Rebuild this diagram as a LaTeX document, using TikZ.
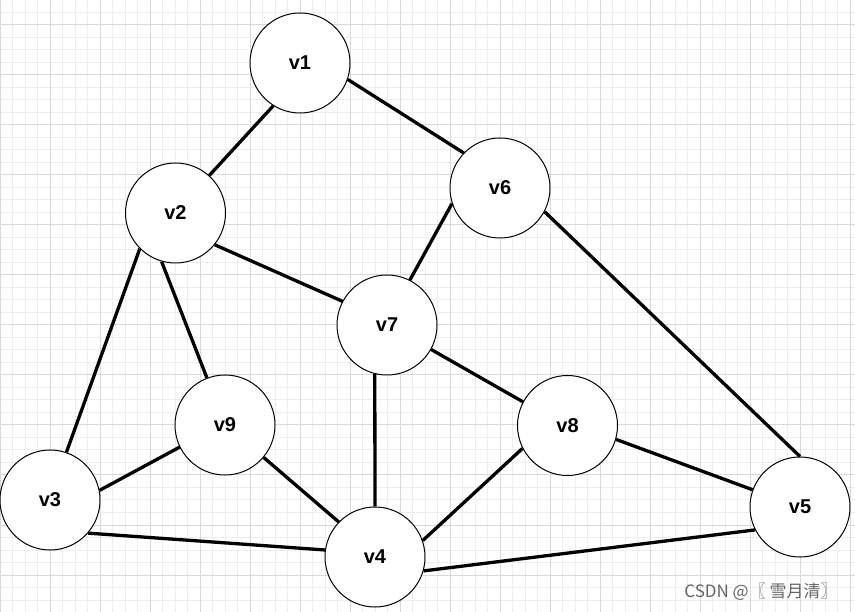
\documentclass[tikz,border=0pt]{standalone}
\usepackage{fontspec}
\setmainfont{Liberation Sans}
\newfontfamily\cjk{Noto Sans CJK SC}
\begin{document}
\begin{tikzpicture}[x=1pt,y=-1pt,
  vert/.style={circle,draw=black,line width=1pt,fill=white,minimum size=100pt,inner sep=0pt,font=\fontsize{20}{23}\selectfont\bfseries},
  link/.style={line width=3.3pt,black},
  minorgrid/.style={draw=black!7,line width=1pt},
  majorgrid/.style={draw=black!15,line width=1pt}]
\useasboundingbox (0,0) rectangle (855,612);
\fill[white] (0,0) rectangle (855,612);
% grid
\foreach \i in {0,...,69} {\draw[minorgrid] (\i*12.5,0) -- (\i*12.5,612);}
\foreach \j in {0,...,49} {\draw[minorgrid] (0,\j*12.5) -- (855,\j*12.5);}
\foreach \i in {0,...,17} {\draw[majorgrid] (\i*50,0) -- (\i*50,612);}
\foreach \j in {0,...,12} {\draw[majorgrid] (0,25+\j*50) -- (855,25+\j*50);}
% nodes
\node[vert] (v1) at (300,63) {v1};
\node[vert] (v2) at (175.5,213) {v2};
\node[vert] (v6) at (500,188) {v6};
\node[vert] (v7) at (387,325) {v7};
\node[vert] (v9) at (225,425) {v9};
\node[vert] (v8) at (567.5,425.5) {v8};
\node[vert] (v3) at (50,500) {v3};
\node[vert] (v4) at (375,557) {v4};
\node[vert] (v5) at (800,507) {v5};
% edges
\draw[link] (v1.238) -- (v2.48);
\draw[link] (v1.-19.5) -- (v6.136);
\draw[link] (v2.-39.6) -- (v7.152);
\draw[link] (v2.225.4) -- (v3.71.6);
\draw[link] (v2.254) -- (v9.111);
\draw[link] (v6.198) -- (v7.63.4);
\draw[link] (v6.-28.4) -- (v5.90);
\draw[link] (v7.256.5) -- (v4.90);
\draw[link] (v7.-29.4) -- (v8.152);
\draw[link] (v9.206) -- (v3.11);
\draw[link] (v9.-40) -- (v4.136);
\draw[link] (v8.207.5) -- (v4.19);
\draw[link] (v8.-16.6) -- (v5.160);
\draw[link] (v3.-41.8) -- (v4.172);
\draw[link] (v4.-16.7) -- (v5.207);
% watermark
\node[text=black!60,font=\cjk\fontsize{17}{20}\selectfont,inner sep=0pt] (wm) at (761,592) {CSDN @〖 雪月清〗};
\end{tikzpicture}
\end{document}
